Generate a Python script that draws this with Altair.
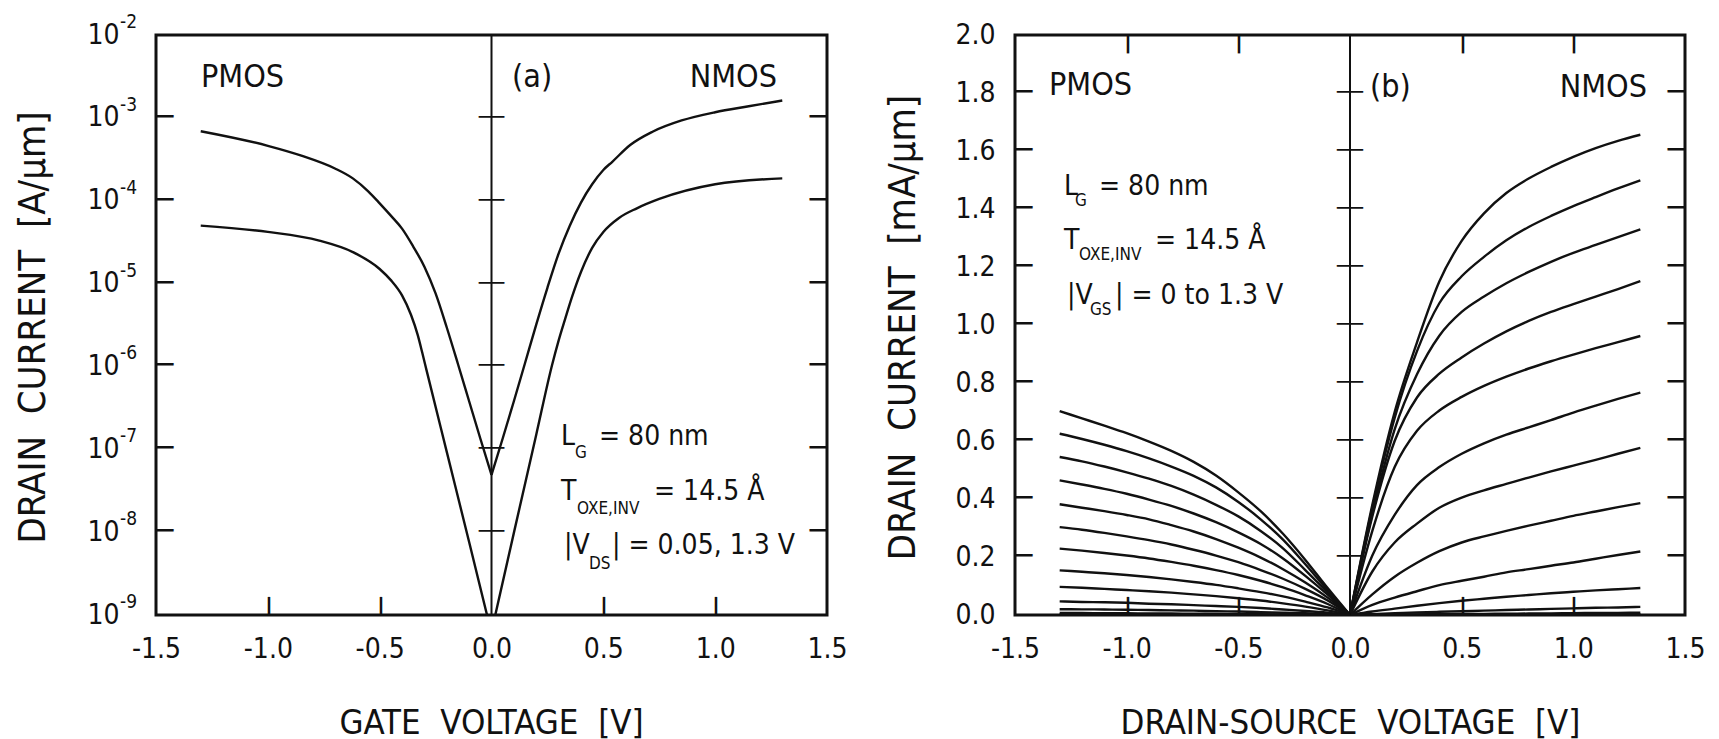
import math
import altair as alt
import pandas as pd

FONT = "DejaVu Sans Condensed, DejaVu Sans, sans-serif"
TICK_FONT = "DejaVu Sans Mono, DejaVu Sans, monospace"
INK = "#111111"
W_A, W_B, H = 671, 670, 580

# ---------------- (a) |I_D| vs gate voltage, A/um (log axis) ----------------
PMOS_HI_VG = [-1.3, -1.0, -0.85, -0.7, -0.62, -0.55, -0.5, -0.45, -0.4, -0.35, -0.3, -0.25, -0.2, -0.15, -0.1, -0.05, 0.0]
PMOS_HI_ID = [6.9e-4, 4.6e-4, 3.5e-4, 2.45e-4, 1.86e-4, 1.29e-4, 9.3e-5, 6.6e-5, 4.6e-5, 2.8e-5,
              1.6e-5, 7.6e-6, 2.95e-6, 1.07e-6, 3.8e-7, 1.35e-7, 4.9e-8]
PMOS_LO_VG = [-1.3, -1.0, -0.77, -0.62, -0.5, -0.45, -0.4, -0.36, -0.33, -0.31, -0.29, -0.2, -0.1, -0.02]
PMOS_LO_ID = [5.0e-5, 4.2e-5, 3.3e-5, 2.4e-5, 1.5e-5, 1.1e-5, 7.2e-6, 4.2e-6, 2.4e-6, 1.48e-6,
              8.9e-7, 9.3e-8, 7.6e-9, 1.0e-9]
NMOS_HI_VG = [0.0, 0.05, 0.1, 0.15, 0.2, 0.25, 0.3, 0.35, 0.4, 0.45, 0.5, 0.54, 0.62, 0.72, 0.85, 1.0, 1.15, 1.3]
NMOS_HI_ID = [4.9e-8, 1.35e-7, 3.8e-7, 1.1e-6, 3.2e-6, 8.9e-6, 2.3e-5, 5.0e-5, 9.5e-5, 1.58e-4,
              2.35e-4, 2.95e-4, 4.7e-4, 6.8e-4, 9.3e-4, 1.17e-3, 1.38e-3, 1.62e-3]
NMOS_LO_VG = [0.017, 0.1, 0.2, 0.27, 0.3, 0.33, 0.36, 0.4, 0.45, 0.5, 0.57, 0.65, 0.75, 1.0, 1.3]
NMOS_LO_ID = [1.0e-9, 9.8e-9, 1.5e-7, 1.02e-6, 2.05e-6, 3.8e-6, 6.9e-6, 1.38e-5, 2.7e-5, 4.2e-5,
              6.2e-5, 8.1e-5, 1.05e-4, 1.58e-4, 1.86e-4]

DECADES = [1e-9, 1e-8, 1e-7, 1e-6, 1e-5, 1e-4, 1e-3, 1e-2]
EXPONENTS = ["-9", "-8", "-7", "-6", "-5", "-4", "-3", "-2"]
X_TICKS = [-1.5, -1.0, -0.5, 0.0, 0.5, 1.0, 1.5]
X_INNER = [-1.0, -0.5, 0.5, 1.0]

# ---------------- (b) output characteristics, mA/um ----------------
VDS = [0.0, 0.1, 0.2, 0.3, 0.4, 0.5, 0.6, 0.7, 0.8, 0.9, 1.0, 1.1, 1.2, 1.3]
# NMOS, |VGS| = 1.3 V (top) down to 0 V
NMOS_ID = [
    [0, 0.38, 0.70, 0.94, 1.15, 1.29, 1.385, 1.455, 1.505, 1.545, 1.58, 1.61, 1.635, 1.656],
    [0, 0.37, 0.68, 0.91, 1.075, 1.168, 1.235, 1.292, 1.338, 1.376, 1.41, 1.441, 1.471, 1.499],
    [0, 0.35, 0.64, 0.83, 0.963, 1.045, 1.098, 1.144, 1.183, 1.218, 1.249, 1.276, 1.303, 1.33],
    [0, 0.34, 0.60, 0.75, 0.832, 0.888, 0.936, 0.978, 1.014, 1.045, 1.072, 1.098, 1.124, 1.151],
    [0, 0.29, 0.51, 0.635, 0.705, 0.752, 0.79, 0.822, 0.85, 0.875, 0.898, 0.92, 0.941, 0.962],
    [0, 0.205, 0.345, 0.448, 0.51, 0.556, 0.592, 0.622, 0.647, 0.672, 0.698, 0.722, 0.745, 0.767],
    [0, 0.15, 0.25, 0.315, 0.37, 0.405, 0.43, 0.452, 0.474, 0.495, 0.515, 0.535, 0.556, 0.576],
    [0, 0.071, 0.132, 0.18, 0.22, 0.25, 0.271, 0.29, 0.308, 0.325, 0.342, 0.357, 0.372, 0.386],
    [0, 0.035, 0.06, 0.082, 0.103, 0.118, 0.132, 0.147, 0.158, 0.17, 0.181, 0.194, 0.207, 0.219],
    [0, 0.012, 0.022, 0.032, 0.041, 0.049, 0.056, 0.063, 0.069, 0.075, 0.08, 0.085, 0.089, 0.093],
    [0, 0.003, 0.006, 0.009, 0.011, 0.013, 0.015, 0.017, 0.019, 0.021, 0.023, 0.025, 0.026, 0.028],
    [0, 0.001, 0.0015, 0.002, 0.0027, 0.0033, 0.004, 0.0045, 0.005, 0.0057, 0.0063, 0.007, 0.0075, 0.008],
    [0, 0.0002, 0.0004, 0.0006, 0.0008, 0.001, 0.0011, 0.0012, 0.0014, 0.0015, 0.0016, 0.0018, 0.0019, 0.002],
    [0, 0, 0, 0, 0, 0, 0, 0, 0, 0, 0, 0, 0, 0],
]
# PMOS, values at VDS = -0.0 ... -1.3 V, |VGS| = 1.3 V (top) down to 0 V
PMOS_ID = [
    [0, 0.093, 0.19, 0.28, 0.358, 0.423, 0.481, 0.528, 0.566, 0.598, 0.627, 0.653, 0.678, 0.703],
    [0, 0.085, 0.175, 0.26, 0.33, 0.39, 0.44, 0.48, 0.512, 0.54, 0.565, 0.587, 0.607, 0.625],
    [0, 0.078, 0.155, 0.23, 0.29, 0.34, 0.38, 0.415, 0.445, 0.47, 0.492, 0.512, 0.53, 0.545],
    [0, 0.07, 0.135, 0.195, 0.245, 0.285, 0.32, 0.35, 0.376, 0.398, 0.418, 0.435, 0.45, 0.464],
    [0, 0.06, 0.112, 0.158, 0.198, 0.232, 0.262, 0.288, 0.31, 0.33, 0.345, 0.358, 0.37, 0.382],
    [0, 0.05, 0.09, 0.125, 0.155, 0.182, 0.205, 0.225, 0.243, 0.258, 0.271, 0.283, 0.294, 0.303],
    [0, 0.038, 0.068, 0.095, 0.118, 0.138, 0.155, 0.17, 0.183, 0.195, 0.205, 0.214, 0.222, 0.229],
    [0, 0.026, 0.046, 0.064, 0.079, 0.092, 0.104, 0.114, 0.123, 0.131, 0.138, 0.144, 0.149, 0.154],
    [0, 0.016, 0.029, 0.04, 0.05, 0.058, 0.065, 0.071, 0.077, 0.082, 0.086, 0.09, 0.094, 0.097],
    [0, 0.008, 0.014, 0.019, 0.024, 0.028, 0.031, 0.034, 0.037, 0.039, 0.042, 0.044, 0.045, 0.047],
    [0, 0.003, 0.006, 0.008, 0.01, 0.012, 0.013, 0.015, 0.016, 0.017, 0.018, 0.019, 0.0195, 0.020],
    [0, 0.001, 0.0015, 0.002, 0.0026, 0.0032, 0.0038, 0.0044, 0.005, 0.0055, 0.006, 0.0064, 0.0068, 0.007],
    [0, 0.0002, 0.0004, 0.0006, 0.0008, 0.001, 0.0011, 0.0012, 0.0014, 0.0015, 0.0016, 0.0018, 0.0019, 0.002],
    [0, 0, 0, 0, 0, 0, 0, 0, 0, 0, 0, 0, 0, 0],
]
Y_TICKS_B = [0.0, 0.2, 0.4, 0.6, 0.8, 1.0, 1.2, 1.4, 1.6, 1.8, 2.0]

X_DOM = [-1.5, 1.5]
Y_DOM_A = [1e-9, 1e-2]
Y_DOM_B = [0.0, 2.0]

# ---------------- tables ----------------
rows_a = []
for name, vs, ids in [("p_hi", PMOS_HI_VG, PMOS_HI_ID), ("p_lo", PMOS_LO_VG, PMOS_LO_ID),
                      ("n_hi", NMOS_HI_VG, NMOS_HI_ID), ("n_lo", NMOS_LO_VG, NMOS_LO_ID)]:
    rows_a += [{"v": v, "i": i, "curve": name} for v, i in zip(vs, ids)]
df_a = pd.DataFrame(rows_a)

rows_b = []
for k, ids in enumerate(NMOS_ID):
    rows_b += [{"v": v, "i": i, "curve": f"n{k}"} for v, i in zip(VDS, ids)]
for k, ids in enumerate(PMOS_ID):
    rows_b += [{"v": -v, "i": i, "curve": f"p{k}"} for v, i in zip(VDS, ids)]
df_b = pd.DataFrame(rows_b)

X_LABEL = "datum.value < 0 ? '-' + format(-datum.value, '.1f') : format(datum.value, '.1f')"
NB = "\u00a0"
DASH = "\u2500"  # box-drawing stroke used for the inward tick marks

xa = alt.Scale(domain=X_DOM, nice=False)
ya = alt.Scale(type="log", domain=Y_DOM_A, nice=False)
xb = alt.Scale(domain=X_DOM, nice=False)
yb = alt.Scale(domain=Y_DOM_B, nice=False)


# pixel position of a value inside a panel (same mapping as the scales above)
def px_x(v, width):
    return (v - X_DOM[0]) / (X_DOM[1] - X_DOM[0]) * width


def px_y_log(v):
    lo, hi = math.log10(Y_DOM_A[0]), math.log10(Y_DOM_A[1])
    return (hi - math.log10(v)) / (hi - lo) * H


def px_y_lin(v):
    return (Y_DOM_B[1] - v) / (Y_DOM_B[1] - Y_DOM_B[0]) * H


def x_axis(title):
    return alt.Axis(values=X_TICKS, labelExpr=X_LABEL, ticks=False, domain=False, grid=False,
                    labelPadding=20, labelFlush=False, labelOverlap=False, labelFontSize=28,
                    title=title, titleFontSize=34.5, titleX=335, titleY=118,
                    titleBaseline="alphabetic", titleAlign="center")


def y_axis(title, values, pad, tx, label_expr=None, fmt=None):
    kw = dict(values=values, ticks=False, domain=False, grid=False, labelPadding=pad,
              labelOverlap=False, labelFlush=False, labelFontSize=28, labelBaseline="middle",
              title=title, titleFontSize=38, titleX=tx, titleY=292, titleAngle=270,
              titleBaseline="alphabetic", titleAlign="center")
    if label_expr:
        kw["labelExpr"] = label_expr
    if fmt:
        kw["format"] = fmt
    return alt.Axis(**kw)


AX_A = x_axis(f"GATE{NB}{NB}VOLTAGE{NB}{NB}[V]")
AY_A = y_axis(f"DRAIN{NB}{NB}CURRENT{NB}{NB}[A/\u00b5m]", DECADES, 37, -112, label_expr="'10'")
AX_B = x_axis(f"DRAIN-SOURCE{NB}{NB}VOLTAGE{NB}{NB}[V]")
AY_B = y_axis(f"DRAIN{NB}{NB}CURRENT{NB}{NB}[mA/\u00b5m]", Y_TICKS_B, 20, -101, fmt=".1f")


def label(text, px, py, size, align="left"):
    return alt.Chart(pd.DataFrame({"t": [text]})).mark_text(
        font=FONT, fontSize=size, align=align, baseline="alphabetic", color=INK
    ).encode(x=alt.value(px), y=alt.value(py), text="t:N")


_tick_no = [0]


def tick(px, py, align, size=28, n=1, angle=0):
    """One inward tick stroke anchored at (px, py) inside the panel."""
    _tick_no[0] += 1
    d = pd.DataFrame({"t": [DASH * n], "k": [_tick_no[0]]})
    mk = dict(font=TICK_FONT, fontSize=size, align=align, baseline="middle", color=INK)
    if angle:
        mk["angle"] = angle
    return alt.Chart(d).mark_text(**mk).encode(x=alt.value(px), y=alt.value(py), text="t:N")


def frame_ticks(y_pixels, x_pixels, width, top):
    out = []
    for py in y_pixels:
        out.append(tick(0.5, py, "left"))
        out.append(tick(width - 0.5, py, "right"))
    for px in x_pixels:
        out.append(tick(px, H - 0.5, "right", size=29, angle=90))
        if top:
            out.append(tick(px, 0.5, "left", size=29, angle=90))
    return out


def zero_cross_text(values, scale, axis, px, size):
    d = pd.DataFrame({"i": values, "t": [DASH * 2] * len(values)})
    return alt.Chart(d).mark_text(font=TICK_FONT, fontSize=size, align="center", baseline="middle",
                                  color=INK).encode(
        y=alt.Y("i:Q", scale=scale, axis=axis), x=alt.value(px), text="t:N")


def lines(df, xs, ys, xaxis, yaxis):
    return alt.Chart(df).mark_line(color=INK, strokeWidth=2.4, interpolate="monotone", clip=True).encode(
        x=alt.X("v:Q", scale=xs, axis=xaxis),
        y=alt.Y("i:Q", scale=ys, axis=yaxis),
        detail="curve:N",
    )


def zero_line(scale, axis):
    return alt.Chart(pd.DataFrame({"v": [0.0]})).mark_rule(color=INK, strokeWidth=2).encode(
        x=alt.X("v:Q", scale=scale, axis=axis))


# ---------------- panel (a) ----------------
exps = alt.Chart(pd.DataFrame({"i": DECADES, "e": EXPONENTS})).mark_text(
    font=FONT, fontSize=19, align="left", baseline="middle", dy=-13, color=INK
).encode(y=alt.Y("i:Q", scale=ya, axis=AY_A), x=alt.value(-36), text="e:N")

# fixes the upper-left corner of the whole figure
anchor = alt.Chart(pd.DataFrame({"a": [0]})).mark_rect(opacity=0).encode(
    x=alt.value(-154), x2=alt.value(-150), y=alt.value(-33), y2=alt.value(-30))

inner_dec = DECADES[1:-1]
ticks_a = frame_ticks([px_y_log(d) for d in inner_dec], [px_x(x, W_A) for x in X_INNER], W_A, False)
panel_a = alt.layer(
    anchor,
    zero_line(xa, AX_A),
    lines(df_a, xa, ya, AX_A, AY_A),
    zero_cross_text(inner_dec, ya, AY_A, W_A / 2, 21),
    *ticks_a,
    exps,
    label("PMOS", 45, 52, 32),
    label("(a)", 356, 52, 32),
    label("NMOS", 621, 52, 32, "right"),
    label("L", 405, 410, 28),
    label("G", 419, 423, 17),
    label("= 80 nm", 443, 410, 28),
    label("T", 405, 465, 28),
    label("OXE,INV", 421, 479, 17),
    label("= 14.5 \u00c5", 498, 465, 28),
    label("|V", 408, 519, 28),
    label("DS", 433, 534, 17),
    label("| = 0.05, 1.3 V", 456, 519, 28),
).properties(width=W_A, height=H)

# ---------------- panel (b) ----------------
inner_b = Y_TICKS_B[1:-1]
ticks_b = frame_ticks([px_y_lin(v) for v in inner_b], [px_x(x, W_B) for x in X_INNER], W_B, True)
ticks_b += [tick(W_B / 2, px_y_lin(v), "center", size=21.5, n=2) for v in inner_b]
panel_b = alt.layer(
    zero_line(xb, AX_B),
    lines(df_b, xb, yb, AX_B, AY_B),
    *ticks_b,
    label("PMOS", 34, 60, 32),
    label("(b)", 355, 62, 32),
    label("NMOS", 632, 62, 32, "right"),
    label("L", 49, 160, 28),
    label("G", 60, 171, 17),
    label("= 80 nm", 84, 160, 28),
    label("T", 49, 214, 28),
    label("OXE,INV", 64, 225, 17),
    label("= 14.5 \u00c5", 140, 214, 28),
    label("|V", 52, 269, 28),
    label("GS", 75, 280, 17),
    label("| = 0 to 1.3 V", 100, 269, 28),
).properties(width=W_B, height=H)

chart = alt.HConcatChart(hconcat=[panel_a, panel_b], spacing=188, bounds="flush").properties(
    padding=0, background="white"
).configure_view(stroke=INK, strokeWidth=3).configure_axis(
    labelFont=FONT, titleFont=FONT, labelColor=INK, titleColor=INK, titleFontWeight="normal"
)

chart.save("out.html", embed_options={"renderer": "svg", "actions": False})
